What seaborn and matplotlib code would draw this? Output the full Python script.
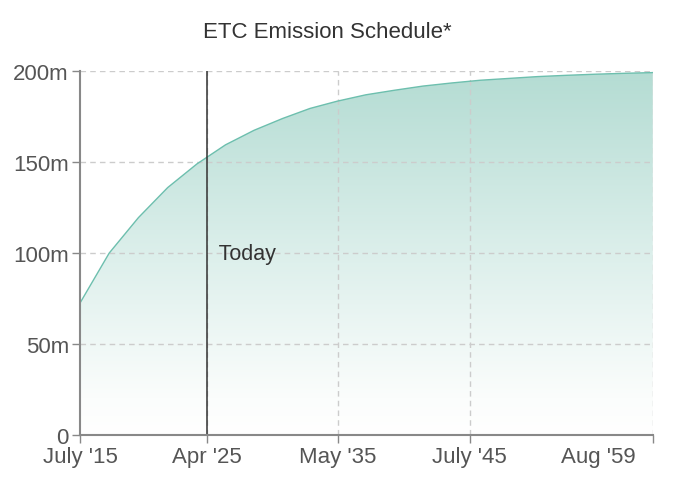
import numpy as np
import matplotlib
matplotlib.use("Agg")
import matplotlib.pyplot as plt
import seaborn as sns
from matplotlib.colors import LinearSegmentedColormap
import matplotlib.transforms as mtransforms

# supply (millions) at the end of each era
years = [2015.5, 2017.75, 2020.0, 2022.25, 2024.5, 2026.7, 2028.9, 2031.1, 2033.2,
         2035.3, 2037.5, 2039.7, 2041.9, 2044.1, 2046.3, 2048.5, 2050.7, 2052.9,
         2055.1, 2057.3, 2059.58]
supply = [72.5, 100, 119.5, 136, 149, 159.5, 167.5, 174, 179.5, 183.5, 187, 189.5,
          191.8, 193.5, 195, 196, 197, 197.7, 198.3, 198.8, 199.2]

tick_years = [2015.5, 2025.25, 2035.33, 2045.5, 2059.58]
tick_labels = ["July '15", "Apr '25", "May '35", "July '45", "Aug '59"]
y_ticks = [0, 50, 100, 150, 200]
y_labels = ["0", "50m", "100m", "150m", "200m"]
today = 2025.25

sns.set_style("white")
plt.rcParams['font.family'] = ['Liberation Sans', 'DejaVu Sans']

fig = plt.figure(figsize=(6.8, 4.81), dpi=100)
ax = fig.add_axes([0.1176, 0.0936, 0.8424, 0.7564])

x0, x1 = years[0], years[-1]
ax.set_xlim(x0, x1)
ax.set_ylim(0, 200)

# gradient fill under the curve
cmap = LinearSegmentedColormap.from_list(
    "g", [(0, "#ffffff"), (0.1, "#fbfdfc"), (0.5, "#dcefeb"), (1, "#b4dcd3")])
grad = np.linspace(0, 1, 256).reshape(-1, 1)
img = ax.imshow(grad, cmap=cmap, aspect="auto", origin="lower",
                extent=[x0, x1, 0, 200], zorder=1)
poly = ax.fill_between(years, 0, supply, color="none", lw=0)
img.set_clip_path(poly.get_paths()[0], ax.transData)

sns.lineplot(x=years, y=supply, ax=ax, color="#6dbfae", lw=1.0, zorder=3)

ax.set_xticks(tick_years)
ax.set_xticklabels(tick_labels)
ax.set_yticks(y_ticks)
ax.set_yticklabels(y_labels)

for t in tick_years[1:]:
    ax.axvline(t, color="#cccccc", ls=(0, (4, 3)), lw=1, zorder=2)
for t in y_ticks[1:]:
    ax.axhline(t, color="#cccccc", ls=(0, (4, 3)), lw=1, zorder=2)

ax.axvline(today, color="#333333", lw=1.1, zorder=4)
ax.text(today, 100, "  Today", ha="left", va="center", fontsize=15.5, color="#333333", zorder=5)

for s in ["top", "right"]:
    ax.spines[s].set_visible(False)
for s in ["left", "bottom"]:
    ax.spines[s].set_color("#888888")
    ax.spines[s].set_linewidth(1.5)
    ax.spines[s].set_zorder(6)

ax.tick_params(axis="both", colors="#888888", length=6, width=1, labelsize=16,
               labelcolor="#555555", direction="out", bottom=True, left=True)
ax.tick_params(axis="x", pad=2)
ax.tick_params(axis="y", pad=2)

# shift last x label to the left so it stays inside
last = ax.get_xticklabels()[-1]
last.set_transform(last.get_transform() + mtransforms.ScaledTranslation(-0.54, 0, fig.dpi_scale_trans))

fig.text(0.482, 0.933, "ETC Emission Schedule*", ha="center", va="center",
         fontsize=16, color="#333333")

fig.savefig("out.png", dpi=100)
